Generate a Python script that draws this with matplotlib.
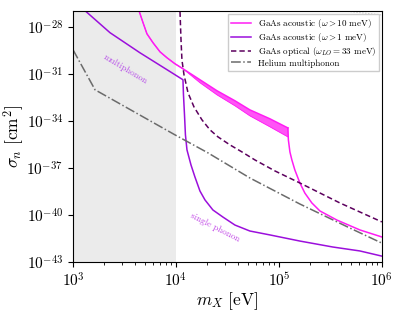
import numpy as np
import matplotlib
matplotlib.use("Agg")
import matplotlib.pyplot as plt
from matplotlib.ticker import LogLocator, NullLocator

plt.rcParams["font.family"] = "serif"
plt.rcParams["font.serif"] = ["cmr10", "DejaVu Serif"]
plt.rcParams["mathtext.fontset"] = "cm"
plt.rcParams["axes.formatter.use_mathtext"] = True

# log10(m_X / eV), log10(sigma / cm^2)
acou10_m  = [3.60, 3.641, 3.680, 3.718, 3.777, 3.845, 3.913, 3.990, 4.068,
             4.233, 4.398, 4.573, 4.718, 4.913, 5.087]
acou10_hi = [-26.7, -26.98, -27.74, -28.45, -29.02, -29.60, -29.98, -30.36, -30.68,
             -31.38, -32.08, -32.72, -33.30, -33.87, -34.45]
acou10_lo = [-26.7, -26.98, -27.74, -28.45, -29.02, -29.60, -29.98, -30.36, -30.68,
             -31.57, -32.34, -33.04, -33.68, -34.38, -35.02]
acou10_tail_m = [5.087, 5.092, 5.107, 5.126, 5.155, 5.204, 5.252, 5.320, 5.398,
                 5.563, 5.786, 6.0]
acou10_tail_s = [-34.45, -35.21, -35.98, -36.49, -37.13, -37.96, -38.60, -39.23, -39.74,
                 -40.32, -40.95, -41.40]

acou1_m = [3.08, 3.117, 3.359, 3.650, 3.913, 4.068, 4.073, 4.083, 4.092, 4.107,
           4.146, 4.184, 4.233, 4.282, 4.359, 4.456, 4.573, 4.718, 4.913, 5.204,
           5.524, 5.786, 6.0]
acou1_s = [-26.8, -26.98, -28.38, -29.66, -30.74, -31.38, -32.34, -33.62, -34.89, -35.85,
           -36.81, -37.57, -38.47, -39.04, -39.68, -40.13, -40.64, -41.02, -41.27, -41.66,
           -42.04, -42.29, -42.62]

opt_m = [4.035, 4.039, 4.049, 4.058, 4.078, 4.117, 4.175, 4.252, 4.330, 4.408,
         4.524, 4.641, 4.767, 4.961, 5.204, 5.592, 6.0]
opt_s = [-26.5, -26.98, -28.83, -30.11, -31.06, -32.21, -33.11, -33.93, -34.57, -35.02,
         -35.53, -35.98, -36.49, -37.19, -37.96, -39.23, -40.44]

he_m = [3.0, 3.214, 3.990, 4.311, 4.718, 5.204, 5.689, 6.0]
he_s = [-29.47, -32.02, -34.89, -36.04, -37.64, -39.30, -40.83, -41.79]

faint_m = [5.64, 6.0]
faint_s = [-27.0, -27.25]

MAGENTA = "#ff1cf4"
VIOLET = "#9b0fdc"
DARKPURPLE = "#5c005e"
GREY = "#6b6b6b"


def p(a):
    return 10.0 ** np.asarray(a)


fig = plt.figure(figsize=(3.99, 3.15), dpi=100)
ax = fig.add_axes([0.183, 0.168, 0.774, 0.797])

ax.axvspan(1e3, 1e4, color="#ebebeb", zorder=0, lw=0)

ax.fill_between(p(acou10_m), p(acou10_lo), p(acou10_hi), color=MAGENTA, alpha=0.75, lw=0)
ax.plot(p(acou10_m), p(acou10_hi), color=MAGENTA, lw=1.1, label=r"GaAs acoustic ($\omega > 10$ meV)")
ax.plot(p(acou10_m), p(acou10_lo), color=MAGENTA, lw=0.6)
ax.plot(p(acou10_tail_m), p(acou10_tail_s), color=MAGENTA, lw=1.1)

ax.plot(p(acou1_m), p(acou1_s), color=VIOLET, lw=1.1, label=r"GaAs acoustic ($\omega > 1$ meV)")
ax.plot(p(opt_m), p(opt_s), color=DARKPURPLE, lw=1.1, ls=(0, (3.5, 2)),
        label=r"GaAs optical ($\omega_{LO} = 33$ meV)")
ax.plot(p(he_m), p(he_s), color=GREY, lw=1.1, ls="-.", label="Helium multiphonon")
ax.plot(p(faint_m), p(faint_s), color="#c8c8c8", lw=0.8, ls=":")

ax.text(3.2e3, 1.8e-31, "multiphonon", color="#b54ae8", fontsize=6.5, rotation=-31,
        ha="center", va="center")
ax.text(2.4e4, 1.7e-41, "single phonon", color="#c044e6", fontsize=6.5, rotation=-27,
        ha="center", va="center")

ax.set_xscale("log")
ax.set_yscale("log")
ax.set_xlim(1e3, 1e6)
ax.set_ylim(1e-43, 1e-27)
ax.set_yticks([1e-43, 1e-40, 1e-37, 1e-34, 1e-31, 1e-28])
ax.yaxis.set_minor_locator(NullLocator())
ax.xaxis.set_minor_locator(LogLocator(base=10, subs=np.arange(2, 10)))
ax.tick_params(labelsize=11)
ax.set_xlabel(r"$m_X\ [\mathrm{eV}]$", fontsize=12.5, labelpad=0)
ax.set_ylabel(r"$\sigma_n\ [\mathrm{cm}^2]$", fontsize=12.5, labelpad=0)

ax.legend(loc="upper right", fontsize=6.5, frameon=True, fancybox=False,
          edgecolor="#cccccc", framealpha=1, borderpad=0.35, handlelength=2.2,
          handletextpad=0.7, labelspacing=0.12, borderaxespad=0.3)

fig.savefig("out.png", dpi=100)
